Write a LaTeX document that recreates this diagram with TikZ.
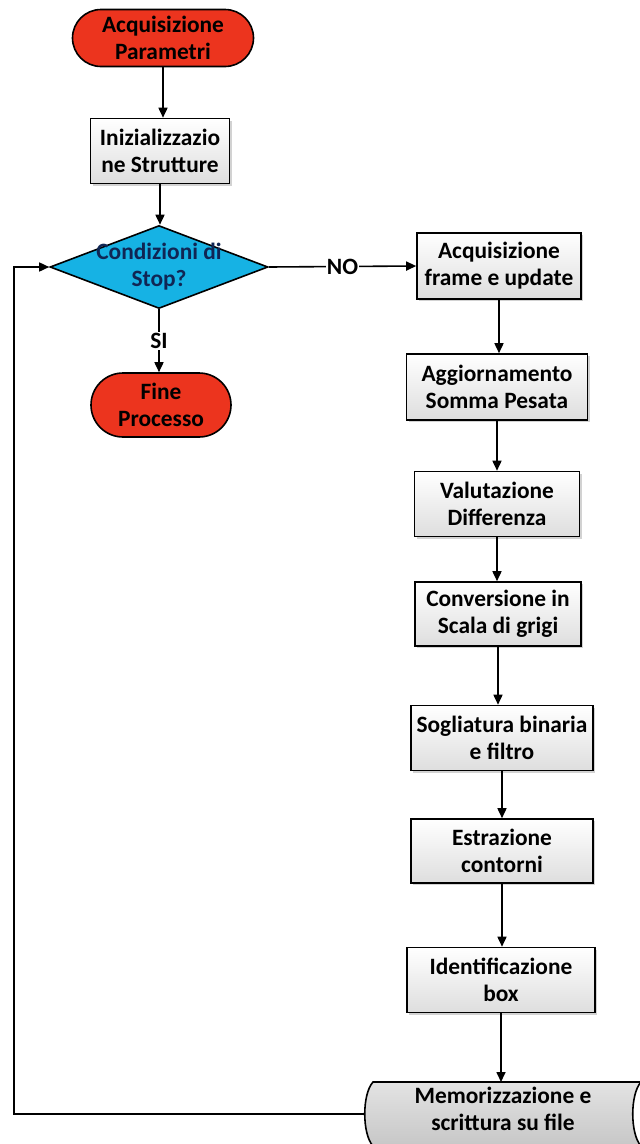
\documentclass[tikz,border=0pt]{standalone}
\usepackage{fontspec}
\setmainfont{Carlito}
\usetikzlibrary{shapes.geometric,shapes.misc,arrows.meta,shadows}
\definecolor{termred}{RGB}{236,52,30}
\definecolor{condcyan}{RGB}{22,178,228}
\definecolor{condtext}{RGB}{16,38,84}
\begin{document}
\begin{tikzpicture}[x=1pt,y=-1pt,
  every node/.style={font=\fontsize{23.4}{27}\selectfont\bfseries, align=center},
  terminal/.style={rounded rectangle, draw=black, line width=1.6pt, fill=termred, inner sep=0pt},
  procbox/.style={rectangle, draw=black, line width=1.6pt, top color=white, bottom color=black!13, inner sep=0pt,
    drop shadow={shadow xshift=2pt, shadow yshift=-2pt, opacity=0.35}},
  decision/.style={diamond, draw=black, line width=1.6pt, fill=condcyan, inner sep=0pt},
  conn/.style={line width=1.6pt, -{Triangle[length=10pt,width=9pt]}},
  lab/.style={fill=white, inner sep=1pt}
]
\useasboundingbox (0,0) rectangle (640,1144);
\fill[white] (0,0) rectangle (640,1144);

% left column
\node[terminal, minimum width=181pt, minimum height=57pt] (acq) at (163,38) {Acquisizione\\Parametri};
\node[procbox, minimum width=139pt, minimum height=65pt] (init) at (160,151) {Inizializzazio\\ne Strutture};
\node[decision, minimum width=218pt, minimum height=83pt] (cond) at (159,267) {};
\node[text=condtext] (condlbl) at (cond.center) {Condizioni di\\Stop?};
\node[terminal, minimum width=140pt, minimum height=64pt] (fine) at (161,405) {Fine\\Processo};

% right column
\node[procbox, minimum width=164pt, minimum height=66pt] (frame) at (499,266) {Acquisizione\\frame e update};
\node[procbox, minimum width=181pt, minimum height=66pt] (somma) at (497,387) {Aggiornamento\\Somma Pesata};
\node[procbox, minimum width=165pt, minimum height=65pt] (diff) at (497,504) {Valutazione\\Differenza};
\node[procbox, minimum width=166pt, minimum height=64pt] (grigi) at (498,614) {Conversione in\\Scala di grigi};
\node[procbox, minimum width=182pt, minimum height=65pt] (soglia) at (502,738) {Sogliatura binaria\\e filtro};
\node[procbox, minimum width=182pt, minimum height=64pt] (contorni) at (502,851) {Estrazione\\contorni};
\node[procbox, minimum width=188pt, minimum height=65pt] (ident) at (501,980) {Identificazione\\box};

% stored data shape
\draw[line width=1.6pt, top color=black!11, bottom color=black!22]
  (373,1082) -- (641,1082) .. controls (630,1094) and (630,1134) .. (641,1146)
  -- (373,1146) .. controls (362,1134) and (362,1094) .. (373,1082) -- cycle;
\node (mem) at (503,1109) {Memorizzazione e\\scrittura su file};
\coordinate (memL) at (365,1114);
\coordinate (memT) at (503,1082);
\coordinate (loopc) at (14,1114);

% connectors
\draw[conn] (acq.south) -- (acq.south |- init.north);
\draw[conn] (init.south) -- (init.south |- cond.north);
\draw[conn] (cond.south) -- node[lab]{SI} (cond.south |- fine.north);
\draw[conn] (cond.east) -- node[lab]{NO} (frame.west);
\draw[conn] (frame.south) -- (frame.south |- somma.north);
\draw[conn] (somma.south) -- (somma.south |- diff.north);
\draw[conn] (diff.south) -- (diff.south |- grigi.north);
\draw[conn] (grigi.south) -- (grigi.south |- soglia.north);
\draw[conn] (soglia.south) -- (soglia.south |- contorni.north);
\draw[conn] (contorni.south) -- (contorni.south |- ident.north);
\draw[conn] (ident.south) -- (ident.south |- memT);
\draw[conn] (memL) -- (loopc) |- (cond.west);
\end{tikzpicture}
\end{document}
